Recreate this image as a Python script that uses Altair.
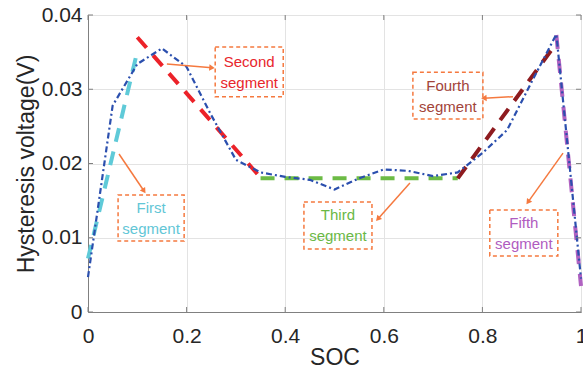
import math
import altair as alt
import pandas as pd

# ---- data ----
soc = [0.0, 0.05, 0.10, 0.15, 0.20, 0.25, 0.30, 0.35, 0.40, 0.45, 0.50,
       0.55, 0.60, 0.65, 0.70, 0.75, 0.80, 0.85, 0.90, 0.95, 1.0]
hv = [0.0047, 0.0278, 0.0334, 0.0355, 0.0330, 0.0265, 0.0205, 0.0188, 0.0182, 0.0178, 0.0165,
      0.0180, 0.0192, 0.0190, 0.0183, 0.0188, 0.0214, 0.0245, 0.0310, 0.0374, 0.0045]

x_ticks = [0, 0.2, 0.4, 0.6, 0.8, 1.0]
y_ticks = [0, 0.01, 0.02, 0.03, 0.04]

seg_names = ["First", "Second", "Third", "Fourth", "Fifth"]
seg_x1 = [0.0, 0.10, 0.35, 0.75, 0.95]
seg_y1 = [0.0072, 0.0370, 0.0180, 0.0180, 0.0373]
seg_x2 = [0.10, 0.35, 0.75, 0.95, 1.00]
seg_y2 = [0.0351, 0.0181, 0.0180, 0.0362, 0.0035]
seg_colors = ["#5fcad8", "#ec2229", "#6cbb45", "#8e1b1f", "#b062c1"]
label_colors = ["#62c6d6", "#e8262c", "#6ab845", "#a2443a", "#b05cc0"]

box_x1 = [0.061, 0.258, 0.438, 0.659, 0.815]
box_x2 = [0.195, 0.396, 0.576, 0.801, 0.953]
box_y1 = [0.00956, 0.0290, 0.0085, 0.0260, 0.00754]
box_y2 = [0.01576, 0.0357, 0.0148, 0.0323, 0.01374]

arrow_x1 = [0.0629, 0.160, 0.653, 0.862, 0.9635]
arrow_y1 = [0.02128, 0.0334, 0.01737, 0.0290, 0.0214]
arrow_x2 = [0.1136, 0.2515, 0.588, 0.803, 0.8925]
arrow_y2 = [0.0163, 0.0329, 0.01253, 0.0288, 0.0148]

W, H = 493, 297
XMAX, YMAX = 1.0, 0.04
ORANGE = "#f5793f"
FONT = "Liberation Sans"
FRAME = "#808080"
TICK = 5

xs = alt.Scale(domain=[0, XMAX], nice=False, zero=False)
ys = alt.Scale(domain=[0, YMAX], nice=False, zero=False)

curve = pd.DataFrame({"soc": soc, "hv": hv})

seg_df = pd.DataFrame({
    "name": seg_names, "x1": seg_x1, "y1": seg_y1, "x2": seg_x2, "y2": seg_y2,
    "color": seg_colors,
})

ann = pd.DataFrame({
    "name": seg_names,
    "line1": seg_names,
    "line2": ["segment"] * len(seg_names),
    "tcolor": label_colors,
    "bx1": box_x1, "bx2": box_x2, "by1": box_y1, "by2": box_y2,
    "cx": [(a + b) / 2 for a, b in zip(box_x1, box_x2)],
    "cy": [(a + b) / 2 for a, b in zip(box_y1, box_y2)],
    "ax1": arrow_x1, "ay1": arrow_y1, "ax2": arrow_x2, "ay2": arrow_y2,
})
# direction of arrow heads in screen space (clockwise from up)
angles = []
for a, b, c, d in zip(arrow_x1, arrow_y1, arrow_x2, arrow_y2):
    dx = (c - a) / XMAX * W
    dy = -(d - b) / YMAX * H
    angles.append(math.degrees(math.atan2(dx, -dy)) % 360)
ann["angle"] = angles

x_axis = alt.Axis(values=x_ticks, format="~g", title="SOC", labelFlush=False,
                  grid=True, ticks=False, labelPadding=30, labelBaseline="alphabetic",
                  titleX=W / 2, titleY=52, titleBaseline="alphabetic")
y_axis = alt.Axis(values=y_ticks, format="~g", labelFlush=False,
                  title="Hysteresis voltage(V)", grid=True, ticks=False, labelPadding=6,
                  titleX=-55, titleY=H / 2, titleBaseline="alphabetic", titleAngle=270)

segs = []
for i in range(len(seg_names)):
    d = seg_df.iloc[[i]]
    segs.append(
        alt.Chart(d).mark_rule(strokeWidth=4, strokeDash=[14, 10], color=seg_colors[i]).encode(
            x=alt.X("x1:Q", scale=xs, axis=x_axis),
            y=alt.Y("y1:Q", scale=ys, axis=y_axis),
            x2="x2:Q", y2="y2:Q",
        )
    )

line = alt.Chart(curve).mark_line(color="#2b4fae", strokeWidth=2.2,
                                  strokeDash=[6, 3, 2, 3]).encode(
    x=alt.X("soc:Q", scale=xs, axis=x_axis),
    y=alt.Y("hv:Q", scale=ys, axis=y_axis),
)

# inward MATLAB-style ticks on all four sides
xt = pd.DataFrame({"t": x_ticks})
yt = pd.DataFrame({"t": y_ticks})
tick_b = alt.Chart(xt).mark_rule(color=FRAME, strokeWidth=1).encode(
    x="t:Q", y=alt.value(H), y2=alt.value(H - TICK))
tick_t = alt.Chart(xt).mark_rule(color=FRAME, strokeWidth=1).encode(
    x="t:Q", y=alt.value(0), y2=alt.value(TICK))
tick_l = alt.Chart(yt).mark_rule(color=FRAME, strokeWidth=1).encode(
    y="t:Q", x=alt.value(0), x2=alt.value(TICK))
tick_r = alt.Chart(yt).mark_rule(color=FRAME, strokeWidth=1).encode(
    y="t:Q", x=alt.value(W), x2=alt.value(W - TICK))

boxes = alt.Chart(ann).mark_rect(fill=None, fillOpacity=0, stroke=ORANGE, strokeWidth=1.5,
                                 strokeDash=[4, 3]).encode(
    x="bx1:Q", x2="bx2:Q", y="by1:Q", y2="by2:Q",
)

text1 = alt.Chart(ann).mark_text(font=FONT, fontSize=15, align="center",
                                 baseline="middle", dy=-10).encode(
    x="cx:Q", y="cy:Q", text="line1:N",
    color=alt.Color("tcolor:N", scale=None),
)
text2 = alt.Chart(ann).mark_text(font=FONT, fontSize=15, align="center",
                                 baseline="middle", dy=11).encode(
    x="cx:Q", y="cy:Q", text="line2:N",
    color=alt.Color("tcolor:N", scale=None),
)

arrow_lines = alt.Chart(ann).mark_rule(color=ORANGE, strokeWidth=1.5).encode(
    x="ax1:Q", y="ay1:Q", x2="ax2:Q", y2="ay2:Q",
)
arrow_heads = alt.Chart(ann).mark_point(shape="triangle-up", filled=True, color=ORANGE,
                                        size=40, opacity=1).encode(
    x="ax2:Q", y="ay2:Q", angle=alt.Angle("angle:Q", scale=None),
)

chart = alt.layer(*segs, line, tick_b, tick_t, tick_l, tick_r, boxes, text1, text2,
                  arrow_lines, arrow_heads).properties(
    width=W, height=H,
    background="white",
    autosize=alt.AutoSizeParams(type="none"),
    padding={"left": 88, "top": 15, "right": 2, "bottom": 55},
).configure_view(stroke=FRAME, strokeWidth=1).configure_axis(
    domainColor=FRAME, gridColor="#e3e3e3", gridWidth=1,
    labelFont=FONT, labelFontSize=21, labelColor="#262626",
    titleFont=FONT, titleFontSize=23, titleColor="#262626", titleFontWeight="normal",
)

chart.save("out.html", embed_options={"renderer": "svg", "actions": False})
